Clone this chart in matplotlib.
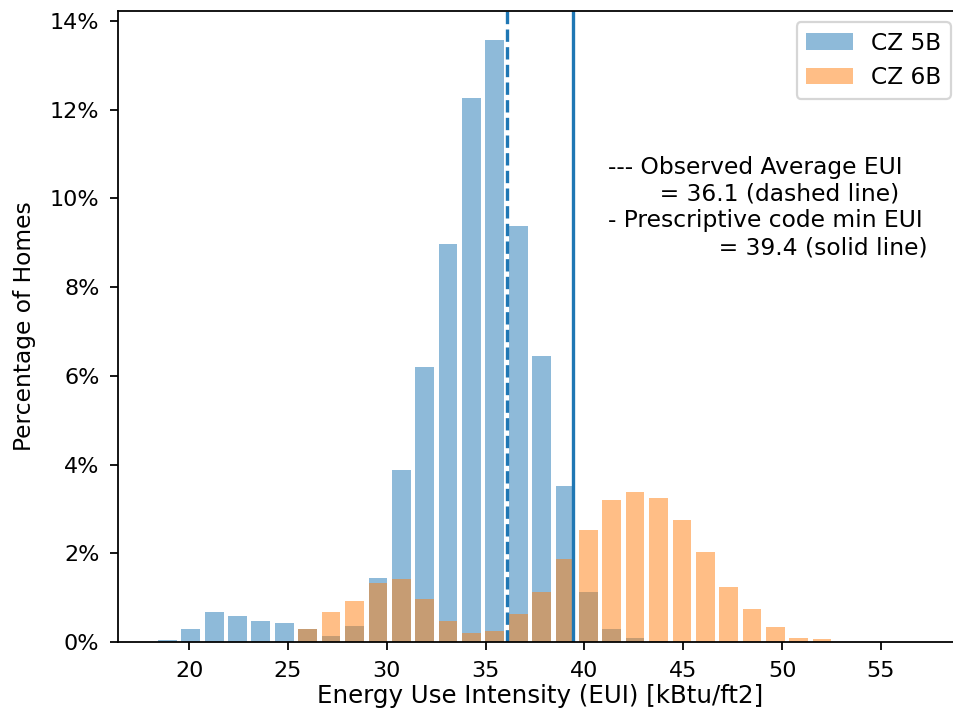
import matplotlib
matplotlib.use("Agg")
import matplotlib.pyplot as plt
from matplotlib.ticker import PercentFormatter

# bin centres of the EUI histogram [kBtu/ft2]
eui_bins = [18.90, 20.08, 21.27, 22.45, 23.63, 24.82, 26.00, 27.18, 28.36, 29.55,
            30.73, 31.91, 33.10, 34.28, 35.46, 36.65, 37.83, 39.01, 40.19, 41.38,
            42.56, 43.74, 44.93, 46.11, 47.29, 48.48, 49.66, 50.84, 52.02, 53.21,
            54.39, 55.57, 56.76]
bin_width = 1.183

# percentage of homes per bin
cz5b = [0.05, 0.29, 0.67, 0.59, 0.47, 0.43, 0.29, 0.14, 0.36, 1.44,
        3.87, 6.20, 8.98, 12.27, 13.58, 9.37, 6.45, 3.52, 1.13, 0.29,
        0.10, 0.02, 0, 0, 0, 0, 0, 0, 0, 0,
        0, 0, 0]
cz6b = [0, 0, 0, 0, 0, 0, 0.29, 0.67, 0.93, 1.33,
        1.41, 0.98, 0.47, 0.20, 0.25, 0.63, 1.12, 1.87, 2.52, 3.21,
        3.37, 3.25, 2.75, 2.02, 1.25, 0.74, 0.33, 0.10, 0.06, 0,
        0, 0, 0]

observed_avg = 36.1
code_min = 39.4

plt.rcParams['font.size'] = 10.5
plt.rcParams['xtick.labelsize'] = 10
plt.rcParams['ytick.labelsize'] = 10
plt.rcParams['xtick.major.pad'] = 5
plt.rcParams['ytick.major.pad'] = 5

fig = plt.figure(figsize=(953/160, 714/160), dpi=160)
ax = fig.add_axes([118.3/953, 72/714, 844.4/953, 631.3/714])

ax.bar(eui_bins, cz5b, width=0.8*bin_width, color="tab:blue", alpha=0.5, label="CZ 5B")
ax.bar(eui_bins, cz6b, width=0.8*bin_width, color="tab:orange", alpha=0.5, label="CZ 6B")

ax.axvline(observed_avg, color="tab:blue", linestyle="--")
ax.axvline(code_min, color="tab:blue")

ax.text(41.2, 10.95,
        "--- Observed Average EUI\n"
        "       = 36.1 (dashed line)\n"
        "- Prescriptive code min EUI\n"
        "               = 39.4 (solid line)",
        va="top", ha="left")

ax.set_xlim(16.42, 59.13)
ax.set_ylim(0, 14.23)
ax.yaxis.set_major_formatter(PercentFormatter(100, decimals=0))
ax.set_xlabel("Energy Use Intensity (EUI) [kBtu/ft2]", fontsize=11, labelpad=1.5)
ax.set_ylabel("Percentage of Homes", labelpad=6)
ax.legend(loc="upper right")

fig.savefig("out.png", dpi=160)
